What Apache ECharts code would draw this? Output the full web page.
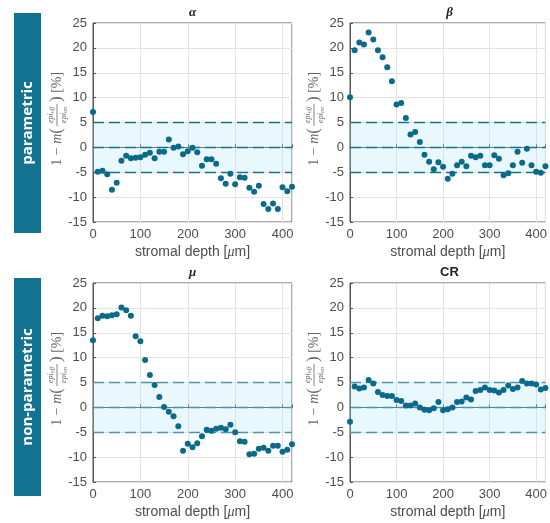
<!DOCTYPE html>
<html>
<head>
<meta charset="utf-8">
<script src="https://cdn.jsdelivr.net/npm/echarts@6/dist/echarts.min.js"></script>
<style>html,body{margin:0;padding:0;background:#fff;}#c{width:550px;height:523px;}</style>
</head>
<body>
<div id="c"></div>
<script>
// ---- data ----
const depth = [0,10,20,30,40,50,60,70,80,90,100,110,120,130,140,150,160,170,180,190,200,210,220,230,240,250,260,270,280,290,300,310,320,330,340,350,360,370,380,390,400,410,420];
const alphaVals = [7.1,-4.9,-4.7,-5.4,-8.5,-7.1,-2.7,-1.7,-2.2,-2.1,-2.0,-1.5,-1.1,-2.2,-0.9,-0.9,1.6,-0.1,0.2,-1.4,-0.8,-0.1,-1.0,-3.7,-2.4,-2.4,-3.3,-6.2,-7.3,-5.3,-7.4,-6.0,-6.1,-8.1,-8.9,-7.7,-11.4,-12.4,-11.3,-12.4,-8.0,-8.8,-7.9];
const betaVals = [10.1,19.5,21.1,20.7,23.1,21.7,19.5,18.1,16.1,13.3,8.6,8.9,5.9,2.6,3.1,1.1,-1.5,-2.9,-4.4,-3.0,-3.9,-6.3,-5.3,-3.6,-2.9,-3.8,-1.7,-2.0,-1.7,-3.6,-3.6,-1.6,-2.3,-5.6,-5.2,-3.6,-0.9,-3.1,-0.3,-3.6,-4.9,-5.1,-3.8];
const muVals = [13.5,17.9,18.4,18.3,18.5,18.7,20.1,19.5,18.4,14.3,13.3,9.5,6.5,4.5,2.1,0.1,-0.9,-1.8,-3.8,-8.7,-7.3,-8.0,-7.2,-5.8,-4.5,-4.7,-4.3,-4.1,-4.4,-3.5,-5.0,-6.8,-6.9,-9.4,-9.3,-8.3,-8.1,-8.7,-7.7,-7.7,-8.9,-8.5,-7.4];
const crVals = [-2.9,4.2,3.8,4.0,5.5,4.8,3.1,2.5,2.3,2.3,1.5,1.3,0.4,0.4,0.8,0.0,-0.5,-0.6,-0.2,1.1,-0.6,-0.4,0.0,1.1,1.2,2.0,1.6,3.3,3.5,4.0,3.5,3.4,3.0,3.5,4.4,3.7,4.0,5.3,4.8,4.8,4.6,3.6,3.9];
const panelTitles = ['α','β','μ','CR'];
const rowLabels = ['parametric','non-parametric'];
const bandLimits = [-5, 5];
const refLines = [-5, 0, 5];
const yTicks = {min: -15, max: 25, interval: 5};
const xTicks = {min: 0, max: 420, interval: 100};

// ---- layout ----
const grids = [
  {left: 93, top: 23, width: 199, height: 199},
  {left: 350, top: 23, width: 199, height: 199},
  {left: 93, top: 283, width: 199, height: 199},
  {left: 350, top: 283, width: 199, height: 199}
];
const seriesVals = [alphaVals, betaVals, muVals, crVals];
const dotColor = '#0b6a8a';
const dashColors = ['#15708f', '#15708f', '#4b94ad', '#4b94ad'];
const textGray = '#4d4d4d';

const chart = echarts.init(document.getElementById('c'), null, {renderer: 'canvas'});

const xAxes = grids.map((g, i) => ({
  type: 'value', gridIndex: i, min: xTicks.min, max: xTicks.max, interval: xTicks.interval,
  axisLine: {show: true, lineStyle: {color: '#555', width: 1}},
  axisTick: {show: true, inside: true, length: 3, lineStyle: {color: '#555'}},
  splitLine: {show: true, lineStyle: {color: '#e3e3e3', width: 1}},
  axisLabel: {color: textGray, fontSize: 13, fontFamily: 'Liberation Sans, Arial, sans-serif', margin: 6,
    formatter: v => (v % 100 === 0 ? String(v) : '')},
  name: '{n|stromal depth [}{m|μ}{n|m]}',
  nameLocation: 'middle', nameGap: 23,
  nameTextStyle: {rich: {
    n: {fontSize: 14, color: textGray, fontFamily: 'Liberation Sans, Arial, sans-serif'},
    m: {fontSize: 14, color: textGray, fontStyle: 'italic', fontFamily: 'Liberation Serif, serif'}
  }}
}));

const yAxes = grids.map((g, i) => ({
  type: 'value', gridIndex: i, min: yTicks.min, max: yTicks.max, interval: yTicks.interval,
  axisLine: {show: true, lineStyle: {color: '#555', width: 1}},
  axisTick: {show: true, inside: true, length: 3, lineStyle: {color: '#555'}},
  splitLine: {show: true, lineStyle: {color: '#e3e3e3', width: 1}},
  axisLabel: {color: textGray, fontSize: 13, fontFamily: 'Liberation Sans, Arial, sans-serif', margin: 6}
}));

const series = seriesVals.map((vals, i) => ({
  type: 'scatter', xAxisIndex: i, yAxisIndex: i, z: 4,
  data: depth.map((d, k) => [d, vals[k]]),
  symbolSize: 6, itemStyle: {color: dotColor, opacity: 1},
  silent: true,
  markArea: {silent: true, z: 1, itemStyle: {color: 'rgba(175,228,248,0.27)'},
    data: [[{yAxis: bandLimits[0]}, {yAxis: bandLimits[1]}]]},
  markLine: {silent: true, z: 2, symbol: 'none', label: {show: false},
    lineStyle: {color: dashColors[i], type: [11, 5], width: 1.3},
    data: refLines.map(v => ({yAxis: v}))}
}));

const titles = grids.map((g, i) => {
  const isCR = panelTitles[i] === 'CR';
  return {
    text: panelTitles[i], left: g.left + g.width / 2, top: g.top - 17, textAlign: 'center', padding: 0,
    textStyle: {fontSize: 13, fontWeight: 'bold', color: '#222',
      fontStyle: isCR ? 'normal' : 'italic',
      fontFamily: isCR ? 'Liberation Sans, Arial, sans-serif' : 'Liberation Serif, serif'}
  };
});

function yLabel(cx, cy) {
  const serif = 'Liberation Serif, DejaVu Serif, serif';
  const col = '#666';
  return {
    type: 'group', x: cx, y: cy, rotation: Math.PI / 2, silent: true,
    children: [
      {type: 'text', x: -13, y: 0, style: {
        text: '{a|1 − }{b|m}{p|(}', align: 'right', verticalAlign: 'middle',
        rich: {a: {fontSize: 14, fontFamily: serif, fill: col, color: col},
               b: {fontSize: 14, fontFamily: serif, fontStyle: 'italic', fill: col, color: col},
               p: {fontSize: 17, fontFamily: serif, fill: col, color: col}}
      }},
      {type: 'text', x: 0, y: -1.5, style: {
        text: '{b|epi}{s|off}', align: 'center', verticalAlign: 'bottom',
        rich: {b: {fontSize: 8, fontFamily: serif, fontStyle: 'italic', fill: col, color: col},
               s: {fontSize: 6, fontFamily: serif, fontStyle: 'italic', fill: col, color: col, padding: [4, 0, 0, 0]}}
      }},
      {type: 'line', shape: {x1: -11, y1: 0, x2: 11, y2: 0}, style: {stroke: col, lineWidth: 0.8}},
      {type: 'text', x: 0, y: 1.5, style: {
        text: '{b|epi}{s|on}', align: 'center', verticalAlign: 'top',
        rich: {b: {fontSize: 8, fontFamily: serif, fontStyle: 'italic', fill: col, color: col},
               s: {fontSize: 6, fontFamily: serif, fontStyle: 'italic', fill: col, color: col, padding: [4, 0, 0, 0]}}
      }},
      {type: 'text', x: 13, y: 0, style: {
        text: '{p|)}{a| [%]}', align: 'left', verticalAlign: 'middle',
        rich: {a: {fontSize: 14, fontFamily: serif, fill: col, color: col},
               p: {fontSize: 17, fontFamily: serif, fill: col, color: col}}
      }}
    ]
  };
}

function rowBox(top, height, label) {
  return [
    {type: 'rect', shape: {x: 14, y: top, width: 27, height: height}, style: {fill: '#13728f'}, silent: true},
    {type: 'text', x: 27.5, y: top + height / 2, rotation: Math.PI / 2, silent: true,
      style: {text: label, fill: '#fff', font: 'bold 15px "Open Sans", "Noto Sans", sans-serif',
        align: 'center', verticalAlign: 'middle'}}
  ];
}

const graphics = [
  ...rowBox(13, 220, rowLabels[0]),
  ...rowBox(278, 218, rowLabels[1]),
  yLabel(57, 115), yLabel(314, 115), yLabel(57, 375), yLabel(314, 375)
];

chart.setOption({
  animation: false,
  backgroundColor: '#fff',
  title: titles,
  grid: grids.map(g => Object.assign({show: true, borderColor: '#555', borderWidth: 1, backgroundColor: 'transparent'}, g)),
  xAxis: xAxes,
  yAxis: yAxes,
  series: series,
  graphic: graphics
});
</script>
</body>
</html>
